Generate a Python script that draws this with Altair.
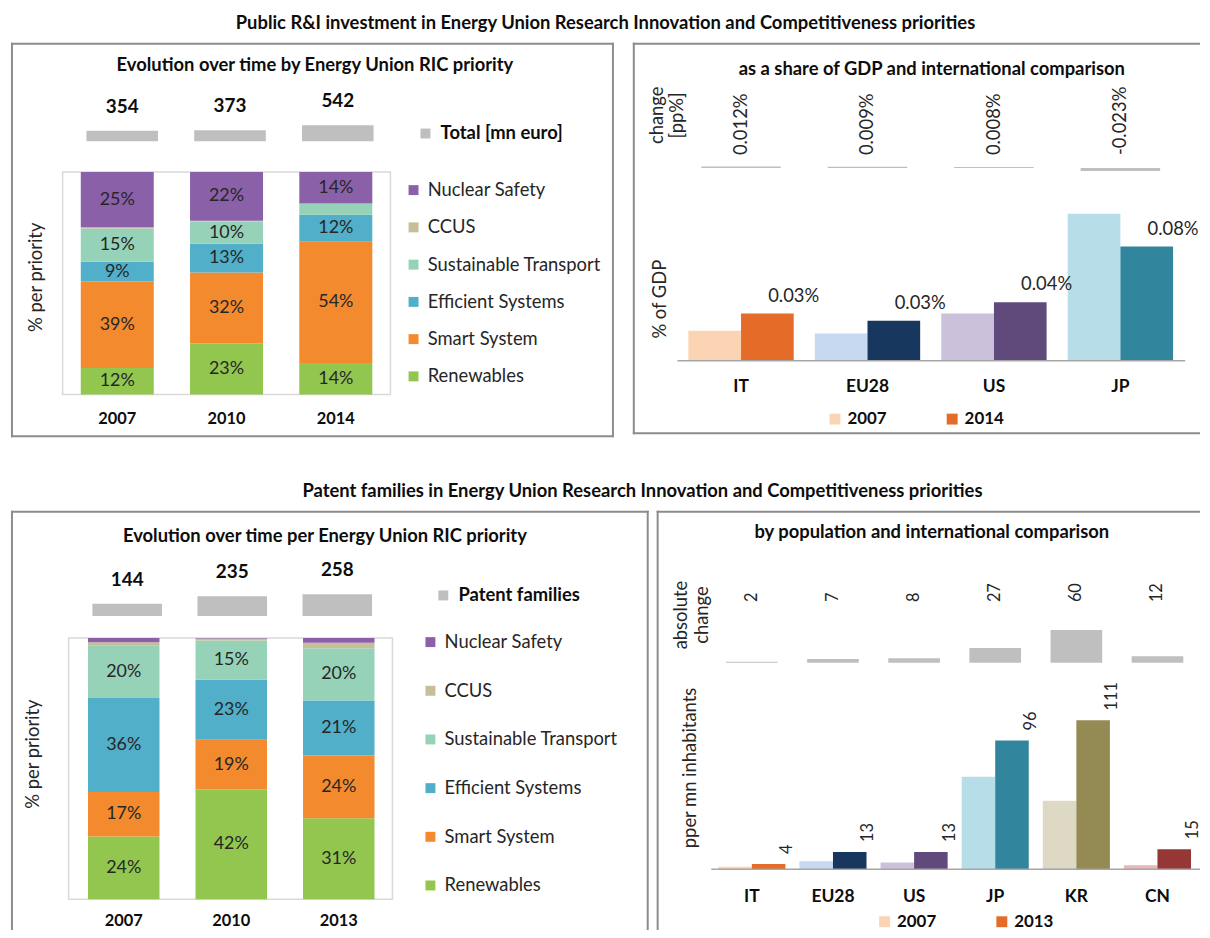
import altair as alt
import pandas as pd

FONT = "Lato"
INK = "#262626"
BLACK = "#0D0D0D"
BORDER = "#8C8C8C"
FRAME = "#D9D9D9"
GREY = "#BFBFBF"

# ---------------- data ----------------
priorities = ["Renewables", "Smart System", "Efficient Systems",
              "Sustainable Transport", "CCUS", "Nuclear Safety"]
priority_colors = ["#92C64F", "#F38A2E", "#51AFC9", "#96D2B8", "#C5BE98", "#8A60A8"]

rd_years = ["2007", "2010", "2014"]
rd_totals = [354, 373, 542]
rd_2007 = [12, 39, 9, 15, 0.5, 25]
rd_2010 = [23, 32, 13, 10, 0.3, 22]
rd_2014 = [14, 54, 12, 5, 0, 14]

pat_years = ["2007", "2010", "2013"]
pat_totals = [144, 235, 258]
pat_2007 = [24, 17, 36, 20, 1.3, 1.7]
pat_2010 = [42, 19, 23, 15, 0.8, 0.2]
pat_2013 = [31, 24, 21, 20, 2.1, 1.9]

gdp_countries = ["IT", "EU28", "US", "JP"]
gdp_years = ["2007", "2014"]
gdp_2007 = [0.021, 0.019, 0.033, 0.103]
gdp_2014 = [0.033, 0.028, 0.041, 0.080]
gdp_change = [0.012, 0.009, 0.008, -0.023]

pop_countries = ["IT", "EU28", "US", "JP", "KR", "CN"]
pop_years = ["2007", "2013"]
pop_2007 = [2, 6, 5, 69, 51, 3]
pop_2013 = [4, 13, 13, 96, 111, 15]
pop_change = [2, 7, 8, 27, 60, 12]

light = {"IT": "#FBD4B4", "EU28": "#C6D9F1", "US": "#CCC1DA",
         "JP": "#B7DEE8", "KR": "#DDD9C4", "CN": "#E6B9B8"}
dark = {"IT": "#E46C28", "EU28": "#17375E", "US": "#604A7B",
        "JP": "#31859C", "KR": "#948A54", "CN": "#953735"}

ONE = alt.Data(values=[{"k": 0}])


def txt(text, x, y, size=18.5, weight="normal", angle=None, color=INK, lh=None):
    kw = dict(fontSize=size, fontWeight=weight, color=color, align="center", baseline="middle")
    if angle is not None:
        kw["angle"] = angle
    if lh is not None:
        kw["lineHeight"] = lh
    return alt.Chart(ONE).mark_text(**kw).encode(
        x=alt.value(x), y=alt.value(y), text=alt.value(text))


def rule(x1, y1, x2, y2, color=BORDER, w=2):
    return alt.Chart(ONE).mark_rule(color=color, strokeWidth=w).encode(
        x=alt.value(x1), y=alt.value(y1), x2=alt.value(x2), y2=alt.value(y2))


def borders(W, H, sides):
    out = []
    if "t" in sides:
        out.append(rule(0, 1, W, 1))
    if "b" in sides:
        out.append(rule(0, H - 1, W, H - 1))
    if "l" in sides:
        out.append(rule(1, 0, 1, H))
    if "r" in sides:
        out.append(rule(W - 1, 0, W - 1, H))
    return out


def stacked_panel(W, H, years, totals, series, total_name, subtitle, g, sides):
    rows = []
    for yr, vals in zip(years, series):
        for i, (p, v) in enumerate(zip(priorities, vals)):
            rows.append({"year": yr, "priority": p, "order": i, "value": v})
    df = pd.DataFrame(rows)
    tdf = pd.DataFrame({"year": years, "total": totals, "series": [total_name] * len(years)})

    xs = alt.Scale(domain=years, range=g["xs"], paddingInner=g["pi"], paddingOuter=g["pi"] / 2)
    ys = alt.Scale(domain=[0, 1], range=g["ys"], nice=False)
    xt = alt.Scale(domain=years, range=g["xt"], paddingInner=g["pit"], paddingOuter=g["pit"] / 2)
    yt = alt.Scale(domain=[0, max(totals)], range=g["yt"], nice=False, zero=True)

    stack = alt.Chart(df).transform_stack(
        stack="value", groupby=["year"], as_=["y0", "y1"],
        sort=[alt.SortField(field="order", order="ascending")], offset="normalize"
    ).transform_calculate(
        mid="(datum.y0 + datum.y1) / 2",
        lab="format(datum.value, '.0f') + '%'"
    )
    bars = stack.mark_bar().encode(
        x=alt.X("year:N", scale=xs, axis=None),
        y=alt.Y("y0:Q", scale=ys, axis=None),
        y2="y1:Q",
        color=alt.Color("priority:N",
                        scale=alt.Scale(domain=priorities[::-1], range=priority_colors[::-1]),
                        legend=alt.Legend(title=None, orient="none", legendX=g["lx"], legendY=g["ly"],
                                          symbolType="square", symbolSize=100, symbolStrokeWidth=0,
                                          labelFontSize=18.5, labelColor=INK, labelOffset=5,
                                          rowPadding=g["rp"], padding=0, labelLimit=400)),
    )
    labels = stack.transform_filter("datum.value >= 8").mark_text(
        fontSize=18, color=INK).encode(
        x=alt.X("year:N", scale=xs, axis=None),
        y=alt.Y("mid:Q", scale=ys, axis=None),
        text="lab:N")
    tbars = alt.Chart(tdf).mark_bar().encode(
        x=alt.X("year:N", scale=xt, axis=None),
        y=alt.Y("total:Q", scale=yt, axis=None),
        color=alt.Color("series:N", scale=alt.Scale(domain=[total_name], range=[GREY]),
                        legend=alt.Legend(title=None, orient="none", legendX=g["tlx"], legendY=g["tly"],
                                          symbolType="square", symbolSize=100, symbolStrokeWidth=0,
                                          labelFontSize=18.5, labelFontWeight="bold", labelColor=BLACK,
                                          labelOffset=6, padding=0, labelLimit=400)),
    )
    tlabels = alt.Chart(tdf).mark_text(dy=-24, fontSize=19, fontWeight="bold", color=BLACK).encode(
        x=alt.X("year:N", scale=xt, axis=None),
        y=alt.Y("total:Q", scale=yt, axis=None),
        text="total:Q")
    ylabels = alt.Chart(tdf).mark_text(fontSize=16.5, fontWeight="bold", color=BLACK).encode(
        x=alt.X("year:N", scale=xs, axis=None),
        y=alt.value(g["yy"]),
        text="year:N")
    fx0, fy0, fx1, fy1 = g["frame"]
    frame = alt.Chart(ONE).mark_rect(fillOpacity=0, stroke=FRAME, strokeWidth=1.5).encode(
        x=alt.value(fx0), x2=alt.value(fx1), y=alt.value(fy0), y2=alt.value(fy1))
    layers = [frame, bars, labels, tbars, tlabels, ylabels,
              txt(subtitle, g["sub"][0], g["sub"][1], weight="bold", color=BLACK),
              txt("% per priority", g["yt_pos"][0], g["yt_pos"][1], angle=270)]
    layers += borders(W, H, sides)
    return alt.layer(*layers).resolve_scale(
        x="independent", y="independent", color="independent"
    ).properties(width=W, height=H)


def grouped_panel(W, H, countries, old, new, change, yrs, g, subtitle, chg_title, y_title,
                  val_fmt, chg_fmt, rotated, sides):
    rows = []
    for c, a, b in zip(countries, old, new):
        rows.append({"country": c, "year": yrs[0], "value": a, "key": c + "|" + yrs[0]})
        rows.append({"country": c, "year": yrs[1], "value": b, "key": c + "|" + yrs[1]})
    df = pd.DataFrame(rows)
    cdf = pd.DataFrame({"country": countries, "change": change})
    keys = [c + "|" + y for c in countries for y in yrs]
    kcol = [col for c in countries for col in (light[c], dark[c])]

    X = alt.X("country:N", scale=alt.Scale(domain=countries, range=g["x"], paddingInner=g["pi"],
                                           paddingOuter=g["pi"] / 2), axis=None)
    XO = alt.XOffset("year:N", scale=alt.Scale(domain=yrs, paddingInner=0, paddingOuter=0))
    Y = alt.Y("value:Q", scale=alt.Scale(domain=g["ydom"], range=g["yrng"], nice=False, zero=True),
              axis=None)
    CY = alt.Y("change:Q", scale=alt.Scale(domain=g["cdom"], range=g["crng"], nice=False, zero=True),
               axis=None)
    first = countries[0]
    bars = alt.Chart(df).transform_filter(f"datum.country != '{first}'").mark_bar().encode(
        x=X, xOffset=XO, y=Y,
        color=alt.Color("key:N", scale=alt.Scale(domain=keys, range=kcol), legend=None))
    bars_first = alt.Chart(df).transform_filter(f"datum.country == '{first}'").mark_bar().encode(
        x=X, xOffset=XO, y=Y,
        color=alt.Color("year:N", scale=alt.Scale(domain=yrs, range=[light[first], dark[first]]),
                        legend=alt.Legend(title=None, orient="none", direction="horizontal",
                                          legendX=g["lx"], legendY=g["ly"], symbolType="square",
                                          symbolSize=121, symbolStrokeWidth=0, labelFontSize=17,
                                          labelFontWeight="bold", labelColor=BLACK,
                                          columnPadding=g["cp"], padding=0, labelOffset=4)))
    vbase = alt.Chart(df).transform_filter(f"datum.year == '{yrs[1]}'").transform_calculate(lab=val_fmt)
    if rotated:
        vtext = vbase.mark_text(angle=270, align="left", baseline="middle", dx=10, dy=2,
                                fontSize=16.5, color=INK)
    else:
        vtext = vbase.mark_text(baseline="bottom", dy=-8, fontSize=18.5, color=INK)
    vtext = vtext.encode(x=X, xOffset=XO, y=Y, text="lab:N")

    cbars = alt.Chart(cdf).mark_bar(color=GREY, width=g["cw"]).encode(x=X, y=CY)
    ctext = alt.Chart(cdf).transform_calculate(lab=chg_fmt).mark_text(
        angle=270, align="left", baseline="middle", fontSize=g["cfs"], color=INK).encode(
        x=X, y=alt.value(g["ycl"]), text="lab:N")
    ctry = alt.Chart(cdf).mark_text(fontSize=17.5, fontWeight="bold", color=BLACK).encode(
        x=X, y=alt.value(g["yc"]), text="country:N")
    bx0, bx1, by = g["base"]
    base = rule(bx0, by, bx1, by, color="#A6A6A6", w=1.5)

    layers = [bars, bars_first, base, vtext, cbars, ctext, ctry,
              txt(subtitle, g["sub"][0], g["sub"][1], weight="bold", color=BLACK),
              txt(chg_title, g["ct"][0], g["ct"][1], angle=270, lh=21),
              txt(y_title, g["yt_pos"][0], g["yt_pos"][1], angle=270)]
    layers += borders(W, H, sides)
    return alt.layer(*layers).resolve_scale(
        y="independent", color="independent", xOffset="independent"
    ).properties(width=W, height=H)


# ---------------- panels ----------------
p1 = stacked_panel(
    607, 397, rd_years, rd_totals, [rd_2007, rd_2010, rd_2014], "Total [mn euro]",
    "Evolution over time by Energy Union RIC priority",
    dict(xs=[52, 382], pi=0.332, xt=[57.75, 383.25], pit=0.336, ys=[354, 130], yt=[99, 83],
         yy=379, frame=(52, 130, 382, 354), sub=(306, 22), yt_pos=(25, 236),
         lx=396, ly=139, rp=18.5, tlx=408, tly=82),
    "tblr")

p2 = grouped_panel(
    571, 394, gdp_countries, gdp_2007, gdp_2014, gdp_change, gdp_years,
    dict(x=[45.3, 554.5], pi=0.167, ydom=[0, 0.1], yrng=[320, 176.25],
         cdom=[-0.023, 0.023], crng=[129, 123], cw=80, ycl=113, yc=346, cfs=18.5,
         base=(45, 556, 320), sub=(301, 26), ct=(24, 73), yt_pos=(27, 258),
         lx=195, ly=370, cp=57),
    "as a share of GDP and international comparison", ["change", "[pp%]"], "% of GDP",
    "format(datum.value, '.2f') + '%'",
    "replace(format(datum.change, '.3f'), '\u2212', '-') + '%'", False, "tbl")

p3 = stacked_panel(
    642, 422, pat_years, pat_totals, [pat_2007, pat_2010, pat_2013], "Patent families",
    "Evolution over time per Energy Union RIC priority",
    dict(xs=[59.4, 384.1], pi=0.335, xt=[64.1, 381.4], pit=0.338, ys=[391, 128], yt=[106, 84],
         yy=413, frame=(58, 128, 384, 391), sub=(316, 25), yt_pos=(22, 245),
         lx=413, ly=123, rp=30, tlx=426, tly=76),
    "tlr")

p4 = grouped_panel(
    547, 422, pop_countries, pop_2007, pop_2013, pop_change, pop_years,
    dict(x=[55, 545], pi=0.173, ydom=[0, 111], yrng=[361, 211],
         cdom=[0, 60], crng=[153, 120], cw=52, ycl=92, yc=389, cfs=16.5,
         base=(55, 547, 361), sub=(277, 21), ct=(25, 105), yt_pos=(34, 259),
         lx=221, ly=405, cp=57),
    "by population and international comparison", ["absolute", "change"], "pper mn inhabitants",
    "format(datum.value, 'd')", "format(datum.change, 'd')", True, "tl")

title_kw = dict(fontSize=18.5, fontWeight="bold", anchor="middle", offset=9, color=BLACK, font=FONT)
row1 = alt.hconcat(p1, p2, spacing=15, title=alt.TitleParams(
    "Public R&I investment in Energy Union Research Innovation and Competitiveness priorities",
    **title_kw)).resolve_scale(color="independent", xOffset="independent")
row2 = alt.hconcat(p3, p4, spacing=4, title=alt.TitleParams(
    "Patent families in Energy Union Research Innovation and Competitiveness priorities",
    dx=37, **title_kw)).resolve_scale(color="independent", xOffset="independent")

chart = alt.vconcat(row1, row2, spacing=43).resolve_scale(
    color="independent", xOffset="independent"
).properties(
    padding={"left": 1, "top": 3, "right": 0, "bottom": 0}, background="white"
).configure(font=FONT).configure_view(stroke="transparent")

chart.save("out.html", embed_options={"renderer": "svg", "actions": False})
